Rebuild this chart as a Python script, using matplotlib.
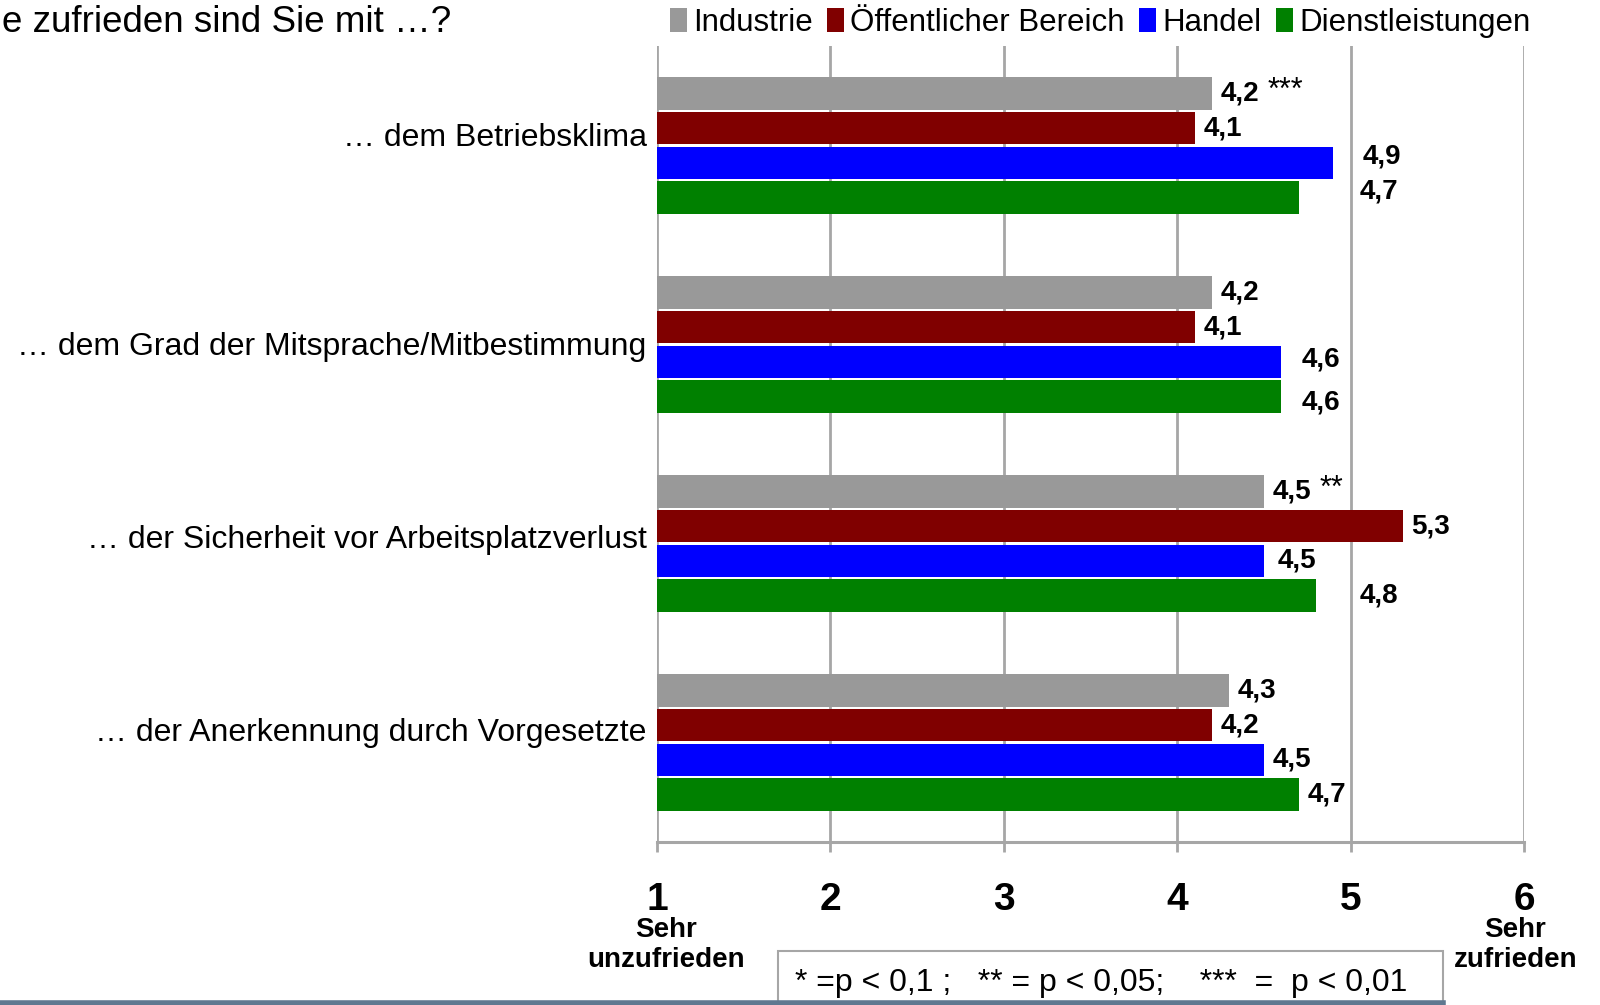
import matplotlib.pyplot as plt
from matplotlib.patches import Patch, Rectangle
from matplotlib.lines import Line2D

plt.rcParams['font.family'] = ['Liberation Sans', 'DejaVu Sans']

# Daten
kategorien = ['… dem Betriebsklima',
              '… dem Grad der Mitsprache/Mitbestimmung',
              '… der Sicherheit vor Arbeitsplatzverlust',
              '… der Anerkennung durch Vorgesetzte']
bereiche = ['Industrie', 'Öffentlicher Bereich', 'Handel', 'Dienstleistungen']
industrie = [4.2, 4.2, 4.5, 4.3]
oeffentlich = [4.1, 4.1, 5.3, 4.2]
handel = [4.9, 4.6, 4.5, 4.5]
dienstleistungen = [4.7, 4.6, 4.8, 4.7]
signifikanz = ['***', '', '**', '']   # gilt für Industrie
skala = [1, 2, 3, 4, 5, 6]
farben = ['#999999', '#800000', '#0000ff', '#008000']

werte = [industrie, oeffentlich, handel, dienstleistungen]

# zusätzliche Verschiebung der Beschriftungen (wie im Original)
nudge_x = {(0, 2): 0.12, (0, 3): 0.3, (1, 2): 0.07, (1, 3): 0.07,
           (2, 3): 0.2, (2, 2): 0.03}
nudge_y = {(0, 2): -0.03, (0, 3): -0.03, (1, 3): 0.03, (1, 2): -0.01}
kat_dy = [-0.04, 0.01, -0.02, -0.05]

fig = plt.figure(figsize=(16, 10.05), dpi=100)
ax = fig.add_axes([0.4106, 0.1622, 0.5419, 0.7920])

step = 0.174
hoehe = 0.162
for s in range(4):
    for g in range(4):
        y = g + (s - 1.5) * step
        v = werte[s][g]
        ax.barh(y, v - 1, left=1, height=hoehe, color=farben[s], zorder=3)
        tx = v + 0.05 + nudge_x.get((g, s), 0)
        ty = y + nudge_y.get((g, s), 0)
        ax.text(tx, ty, f'{v:.1f}'.replace('.', ','), fontsize=20,
                fontweight='bold', va='center', ha='left', zorder=4)
        if s == 0 and signifikanz[g]:
            ax.text(tx + 0.27, ty - 0.015, signifikanz[g], fontsize=22,
                    va='center', ha='left')

ax.set_xlim(1, 6)
ax.set_ylim(3.5, -0.5)
for sp in ['top', 'right', 'left']:
    ax.spines[sp].set_visible(False)
ax.spines['bottom'].set_color('#a6a6a6')
ax.spines['bottom'].set_linewidth(2.2)
ax.set_xticks(skala)
ax.tick_params(axis='x', length=7, width=2, color='#a6a6a6', pad=22,
               labelsize=28)
for lab in ax.get_xticklabels():
    lab.set_fontweight('bold')
for x in skala:
    ax.axvline(x, color='#a6a6a6', lw=2, zorder=1)
ax.set_yticks(range(4))
ax.set_yticklabels([])
ax.tick_params(axis='y', length=0)

# Kategorien links
for g, k in enumerate(kategorien):
    ax.text(-0.012, g + kat_dy[g], k, transform=ax.get_yaxis_transform(),
            ha='right', va='center', fontsize=23)

# Skalenenden
ax.text(1.05, 4.02, 'Sehr\nunzufrieden', ha='center', va='center',
        fontsize=20, fontweight='bold', linespacing=1.2)
ax.text(5.95, 4.02, 'Sehr\nzufrieden', ha='center', va='center',
        fontsize=20, fontweight='bold', linespacing=1.2)

# Titel (links abgeschnitten wie im Original)
fig.text(0.001, 0.978, 'e zufrieden sind Sie mit …?', fontsize=26.5,
         ha='left', va='center')

# Legende
handles = [Patch(facecolor=c, edgecolor='none') for c in farben]
fig.legend(handles, bereiche, loc='center left', bbox_to_anchor=(0.401, 0.977),
           ncol=4, frameon=False, fontsize=22.5, handlelength=0.55,
           handleheight=0.8, handletextpad=0.2, columnspacing=0.45)

# Fußnote
fig.add_artist(Line2D([0, 0.902], [0.0015, 0.0015], color='#5f7890', lw=4,
                      transform=fig.transFigure))
fig.add_artist(Rectangle((0.486, -0.01), 0.416, 0.064, transform=fig.transFigure,
                         facecolor='white', edgecolor='#a6a6a6', lw=1.5))
fig.text(0.497, 0.022, '* =p < 0,1 ;   ** = p < 0,05;    ***  =  p < 0,01',
         fontsize=23, ha='left', va='center')

fig.savefig('out.png', dpi=100)
